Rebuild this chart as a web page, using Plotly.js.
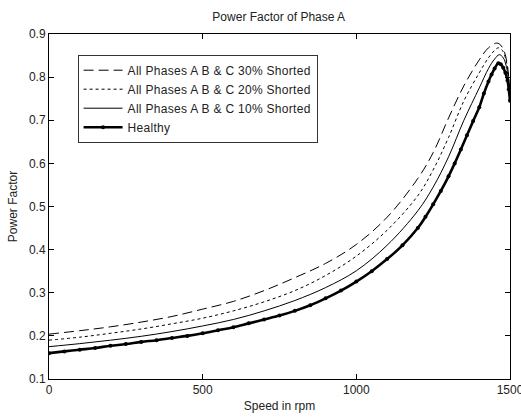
<!DOCTYPE html>
<html>
<head>
<meta charset="utf-8">
<script src="https://cdn.plot.ly/plotly-3.0.1.min.js"></script>
<style>html,body{margin:0;padding:0;background:#fff;}#chart{width:521px;height:417px;}
.legendtext{letter-spacing:0.3px;}</style>
</head>
<body>
<div id="chart"></div>
<script>
// Speed (rpm) and power factor readings
const speed30 = [0,100,200,300,400,500,600,700,800,900,1000,1100,1200,1250,1300,1350,1400,1430,1457,1470,1482,1492,1500];
const pf30    = [0.204,0.212,0.221,0.232,0.245,0.262,0.280,0.305,0.335,0.368,0.412,0.475,0.565,0.625,0.705,0.780,0.840,0.868,0.879,0.874,0.858,0.825,0.76];

const speed20 = [0,100,200,300,400,500,600,700,800,900,1000,1100,1200,1250,1300,1350,1400,1430,1450,1462,1475,1485,1493,1500];
const pf20    = [0.190,0.197,0.206,0.216,0.228,0.241,0.258,0.279,0.305,0.340,0.385,0.445,0.525,0.585,0.660,0.745,0.810,0.845,0.862,0.868,0.862,0.845,0.815,0.75];

const speed10 = [0,100,200,300,400,500,600,700,800,900,1000,1100,1200,1250,1300,1350,1400,1430,1450,1465,1478,1488,1494,1500];
const pf10    = [0.175,0.182,0.190,0.199,0.210,0.223,0.238,0.258,0.282,0.312,0.351,0.410,0.490,0.545,0.615,0.700,0.775,0.820,0.842,0.852,0.845,0.825,0.800,0.745];

const speedH = [0,50,100,150,200,250,300,350,400,450,500,550,600,650,700,750,800,850,900,950,1000,1050,1100,1150,1200,1225,1250,1275,1300,1320,1340,1360,1380,1400,1415,1430,1440,1450,1462,1470,1478,1485,1492,1496,1500];
const pfH    = [0.160,0.164,0.168,0.172,0.177,0.181,0.186,0.190,0.195,0.200,0.206,0.213,0.220,0.229,0.238,0.247,0.258,0.271,0.287,0.305,0.326,0.350,0.378,0.410,0.450,0.476,0.505,0.536,0.570,0.600,0.632,0.665,0.698,0.730,0.762,0.790,0.806,0.820,0.832,0.830,0.822,0.810,0.792,0.772,0.745];

const names = ['All Phases A B & C 30% Shorted','All Phases A B & C 20% Shorted','All Phases A B & C 10% Shorted','Healthy'];

const traces = [
  {x: speed30, y: pf30, name: names[0], mode:'lines', line:{color:'#000', width:1, dash:'10px,5px', shape:'spline'}},
  {x: speed20, y: pf20, name: names[1], mode:'lines', line:{color:'#000', width:1, dash:'3px,3px', shape:'spline'}},
  {x: speed10, y: pf10, name: names[2], mode:'lines', line:{color:'#000', width:1, shape:'spline'}},
  {x: speedH, y: pfH, name: names[3], mode:'lines+markers', line:{color:'#000', width:2.6, shape:'spline'}, marker:{color:'#000', size:4}}
];

const axisCommon = {
  showline:true, mirror:'ticks', linecolor:'#000', linewidth:1,
  ticks:'inside', ticklen:5, tickcolor:'#000', showgrid:false, zeroline:false,
  ticklabeloverflow:'allow',
  tickfont:{family:'Liberation Sans, Arial, sans-serif', size:12, color:'#222'}
};

const layout = {
  width:521, height:417,
  margin:{l:49, r:11, t:34, b:38},
  paper_bgcolor:'#fff', plot_bgcolor:'#fff',
  font:{family:'Liberation Sans, Arial, sans-serif', size:12, color:'#222'},
  title:{text:'Power Factor of Phase A', x:0.535, xanchor:'center', y:0.96, yanchor:'middle', font:{size:12, color:'#222'}},
  xaxis: Object.assign({}, axisCommon, {range:[0,1500], tickvals:[0,500,1000,1500], ticktext:['0','500','1000','1500'],
    title:{text:'Speed in rpm', standoff:5, font:{size:12}}}),
  yaxis: Object.assign({}, axisCommon, {range:[0.1,0.9], tickvals:[0.1,0.2,0.3,0.4,0.5,0.6,0.7,0.8,0.9], tickformat:'.1f',
    title:{text:'Power Factor', standoff:8, font:{size:12}}}),
  showlegend:true,
  legend:{x:0.062, y:0.94, xanchor:'left', yanchor:'top', bgcolor:'#fff', bordercolor:'#333', borderwidth:1,
    font:{size:12, color:'#222'}, tracegroupgap:0, itemwidth:39}
};

Plotly.newPlot('chart', traces, layout, {displayModeBar:false, staticPlot:true});
</script>
</body>
</html>
